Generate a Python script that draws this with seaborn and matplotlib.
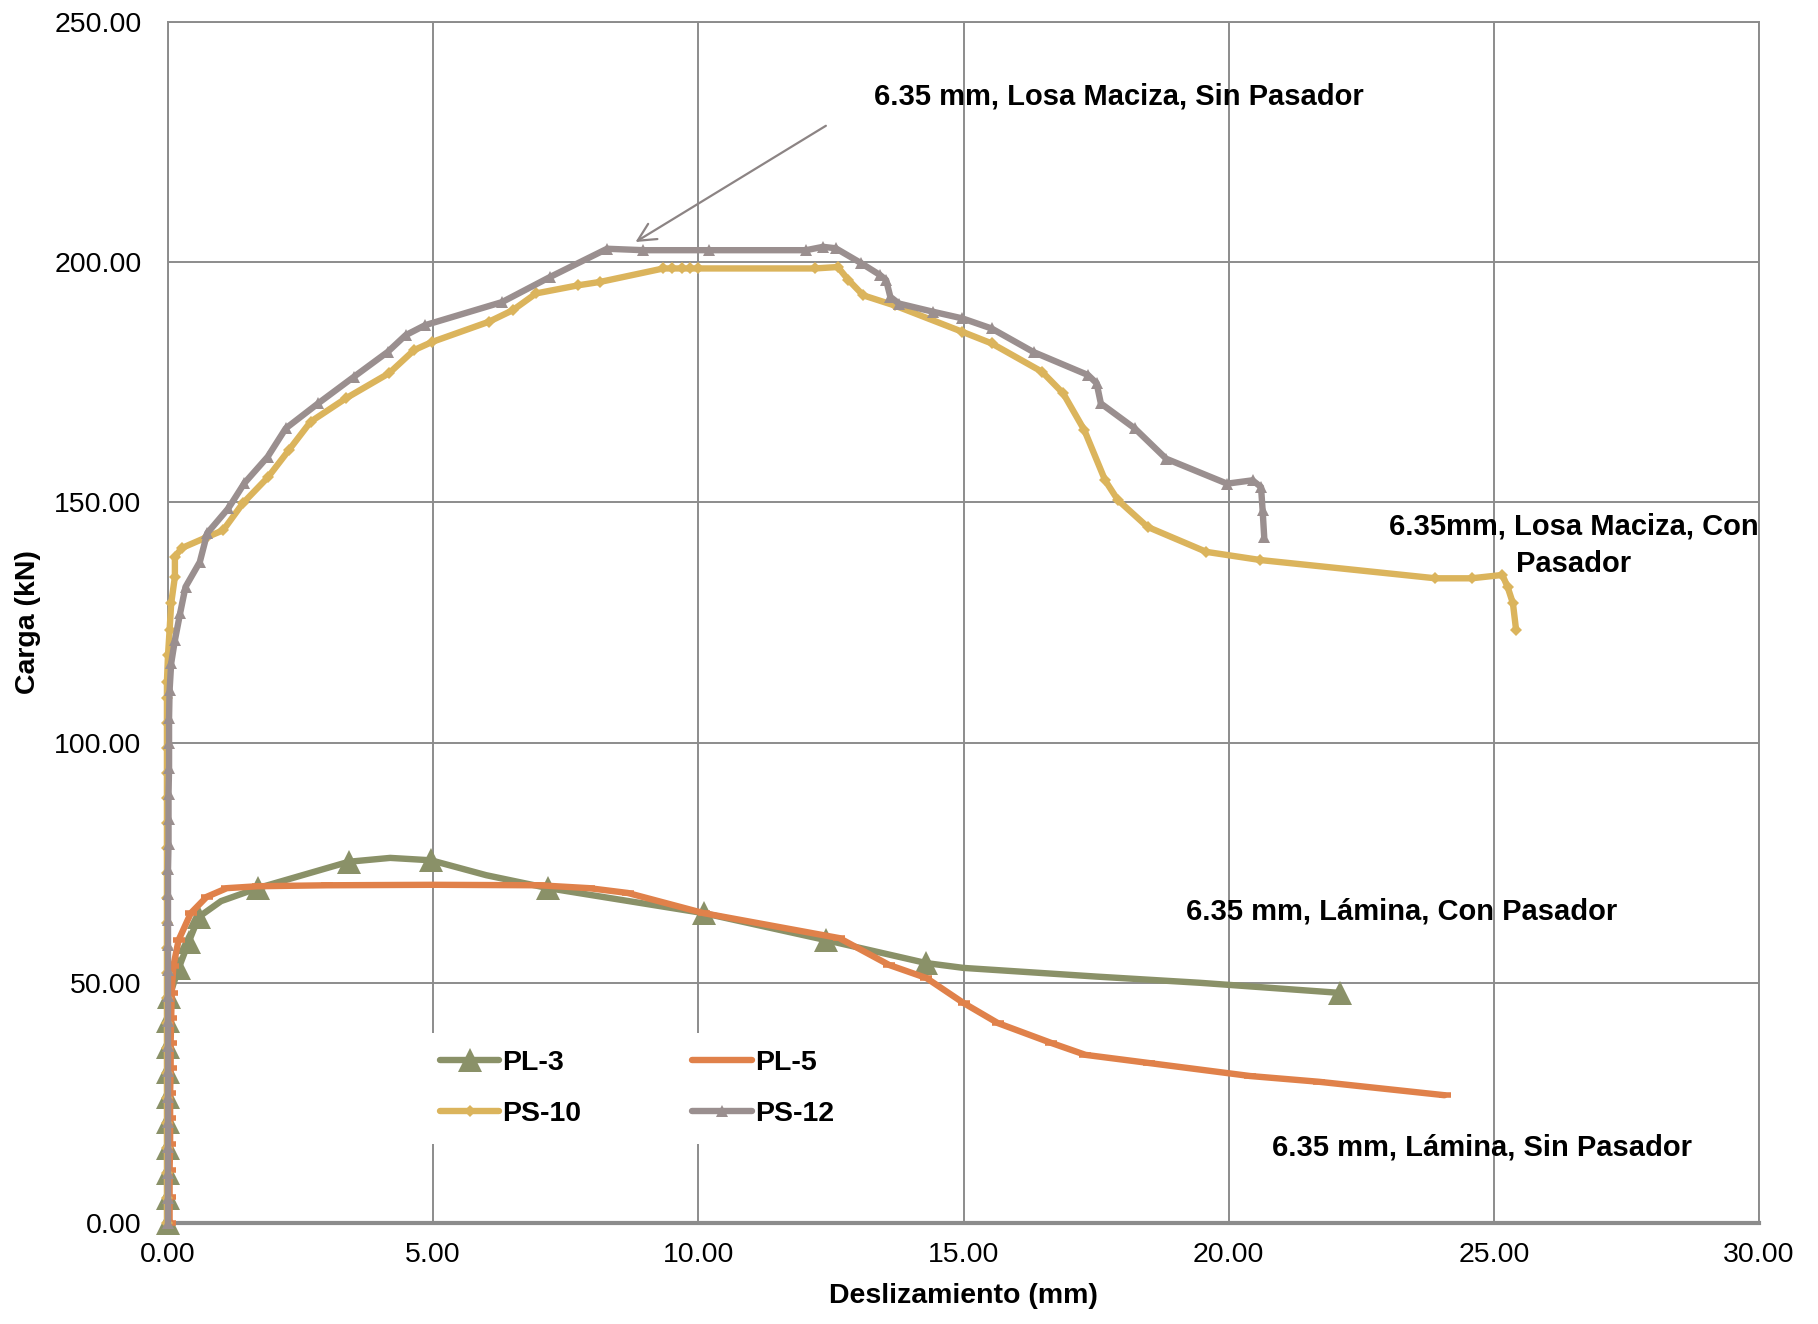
import matplotlib
matplotlib.use("Agg")
import matplotlib.pyplot as plt
import seaborn as sns
import pandas as pd
from matplotlib.lines import Line2D
from matplotlib.ticker import FormatStrFormatter

# ---------------- data ----------------
pl3_x = [0.0, 0.0, 0.0, 0.0, 0.0, 0.0, 0.0, 0.0, 0.0, 0.02, 0.2, 0.39, 0.58, 1.0,
         1.69, 3.41, 4.19, 4.96, 6.0, 7.17, 10.1, 12.4, 14.3, 15.0, 17.5, 19.46, 22.1]
pl3_y = [0, 5.2, 10.5, 15.7, 21.0, 26.2, 31.4, 36.7, 42.0, 47.0, 53.0, 58.5, 63.7, 67.0,
         69.7, 75.2, 76.0, 75.5, 72.4, 69.7, 64.5, 58.9, 54.1, 53.1, 51.3, 50.0, 47.9]
pl3_marks = [0, 1, 2, 3, 4, 5, 6, 7, 8, 9, 10, 11, 12, 14, 15, 17, 19, 20, 21, 22, 26]

pl5_x = [0.03, 0.03, 0.03, 0.04, 0.04, 0.04, 0.05, 0.05, 0.06, 0.07, 0.1, 0.2, 0.43, 0.73,
         1.11, 1.69, 3.0, 5.0, 7.0, 7.94, 8.67, 10.1, 12.66, 13.6, 14.3, 15.0, 15.65, 16.65,
         17.3, 18.5, 20.4, 21.7, 24.07]
pl5_y = [0, 5.5, 11.0, 16.4, 21.8, 27.0, 32.2, 37.5, 42.6, 47.9, 53.4, 58.9, 64.5, 67.9,
         69.7, 70.1, 70.3, 70.4, 70.3, 69.7, 68.7, 64.5, 59.3, 53.7, 51.0, 45.8, 41.6, 37.5,
         35.0, 33.3, 30.6, 29.4, 26.6]

ps10_x = [-0.02, -0.02, -0.02, -0.02, -0.02, -0.02, -0.02, -0.02, -0.02, -0.02, -0.02,
          -0.02, -0.02, -0.02, -0.02, -0.02, -0.02, -0.02, -0.02, -0.02, -0.02, -0.02,
          -0.02, 0.0, 0.03, 0.06, 0.13, 0.13, 0.26, 0.74, 1.04, 1.41, 1.89, 2.28, 2.69,
          3.36, 4.17, 4.64, 4.98, 6.05, 6.5, 6.94, 7.74, 8.15, 9.34, 9.5, 9.7, 9.85, 10.0,
          12.2, 12.63, 12.83, 13.11, 13.7, 14.98, 15.53, 16.48, 16.88, 17.28, 17.67, 17.91,
          18.47, 19.58, 20.6, 23.9, 24.58, 25.16, 25.26, 25.36, 25.42]
ps10_y = [0, 5.2, 10.4, 15.6, 20.8, 26.0, 31.2, 36.4, 41.6, 46.8, 52.0, 57.2, 62.4, 67.6,
          72.8, 78.0, 83.2, 88.4, 93.6, 98.8, 104.0, 109.2, 112.7, 118.2, 123.4, 129.0,
          134.5, 138.7, 140.5, 142.8, 144.2, 149.8, 155.3, 160.9, 166.8, 171.7, 176.9,
          181.7, 183.4, 187.6, 190.0, 193.5, 195.2, 195.9, 198.7, 198.7, 198.7, 198.7,
          198.7, 198.7, 199.0, 196.3, 193.1, 191.0, 185.5, 183.1, 177.2, 172.7, 165.0,
          154.6, 150.5, 144.9, 139.7, 138.0, 134.2, 134.2, 134.9, 132.4, 129.0, 123.4]

ps12_x = [0.0, 0.0, 0.0, 0.0, 0.0, 0.0, 0.0, 0.0, 0.0, 0.0, 0.0, 0.0, 0.0, 0.0, 0.0,
          0.01, 0.01, 0.01, 0.02, 0.02, 0.02, 0.03, 0.06, 0.13, 0.23, 0.33, 0.6, 0.74,
          1.14, 1.44, 1.88, 2.22, 2.83, 3.5, 4.14, 4.48, 4.85, 6.3, 7.2, 8.28, 8.96, 10.2,
          12.03, 12.35, 12.59, 13.07, 13.43, 13.54, 13.62, 13.78, 14.42, 14.98, 15.53,
          16.32, 17.35, 17.51, 17.59, 18.23, 18.82, 19.97, 20.45, 20.61, 20.64, 20.67]
ps12_y = [0, 5.3, 10.5, 15.8, 21.0, 26.3, 31.6, 36.8, 42.1, 47.3, 52.6, 57.8, 63.1,
          68.4, 73.6, 78.9, 84.1, 89.4, 94.7, 99.9, 105.2, 110.9, 116.5, 121.3, 127.0,
          132.4, 137.6, 143.6, 148.8, 154.0, 159.5, 165.4, 170.6, 176.1, 181.3, 184.8,
          186.9, 191.7, 196.9, 202.8, 202.5, 202.5, 202.5, 203.2, 202.9, 199.8, 197.3,
          196.3, 192.8, 191.4, 189.7, 188.3, 186.2, 181.3, 176.5, 174.8, 170.6, 165.4,
          159.1, 153.9, 154.6, 153.2, 148.4, 142.8]

series_names = ["PL-3", "PL-5", "PS-10", "PS-12"]
x_ticks = [0, 5, 10, 15, 20, 25, 30]
y_ticks = [0, 50, 100, 150, 200, 250]

ann_texts = ["6.35 mm, Losa Maciza, Sin Pasador",
             "6.35mm, Losa Maciza, Con\nPasador",
             "6.35 mm, Lámina, Con Pasador",
             "6.35 mm, Lámina, Sin Pasador"]

# ---------------- style ----------------
sns.set_style("white")
plt.rcParams["font.family"] = ["Liberation Sans", "DejaVu Sans"]
plt.rcParams["text.color"] = "black"

C_GREEN = "#8a9168"
C_ORANGE = "#e0814a"
C_GOLD = "#dbb45c"
C_GRAY = "#9a8f8f"
C_GRID = "#8c8c8c"
FS = 20.5
FS_ANN = 21

fig = plt.figure(figsize=(18.18, 13.24), dpi=100)
ax = fig.add_axes([168 / 1818, 1 - 1223 / 1324, (1759 - 168) / 1818, (1223 - 22) / 1324])

LW = 4.6
common = dict(sort=False, estimator=None, ax=ax, clip_on=False,
              solid_joinstyle="round", solid_capstyle="round")

sns.lineplot(x=pl3_x, y=pl3_y, color=C_GREEN, lw=LW, marker="^", ms=17, mew=0,
             mec=C_GREEN, markevery=pl3_marks, zorder=3, **common)
sns.lineplot(x=pl5_x, y=pl5_y, color=C_ORANGE, lw=LW, marker="_", ms=9, mew=4,
             mec=C_ORANGE, zorder=4, **common)
sns.lineplot(x=ps10_x, y=ps10_y, color=C_GOLD, lw=LW, marker="D", ms=6, mew=0,
             mec=C_GOLD, zorder=5, **common)
sns.lineplot(x=ps12_x, y=ps12_y, color=C_GRAY, lw=LW, marker="^", ms=8, mew=0,
             mec=C_GRAY, zorder=6, **common)

ax.set_xlim(0, 30)
ax.set_ylim(0, 250)
ax.set_xticks(x_ticks)
ax.set_yticks(y_ticks)
ax.xaxis.set_major_formatter(FormatStrFormatter("%.2f"))
ax.yaxis.set_major_formatter(FormatStrFormatter("%.2f"))
ax.tick_params(axis="both", length=0, labelsize=FS, colors="black")
ax.tick_params(axis="x", pad=14)
ax.tick_params(axis="y", pad=19)

ax.grid(True, color=C_GRID, lw=1.4, zorder=0)
ax.set_axisbelow(True)
for side in ["top", "right"]:
    ax.spines[side].set_visible(True)
    ax.spines[side].set_color(C_GRID)
    ax.spines[side].set_linewidth(1.4)
ax.spines["left"].set_color(C_GRID)
ax.spines["left"].set_linewidth(1.4)
ax.spines["bottom"].set_color(C_GRID)
ax.spines["bottom"].set_linewidth(3)

ax.set_xlabel("Deslizamiento (mm)", fontsize=FS, fontweight="bold", color="black")
ax.set_ylabel("Carga (kN)", fontsize=FS, fontweight="bold", color="black")
ax.xaxis.set_label_coords(0.5, -0.05)
ax.yaxis.set_label_coords(-0.0798, 0.5)

# annotations
ax.text(13.32, 234.5, ann_texts[0], fontsize=FS_ANN, fontweight="bold", ha="left",
        va="center", color="black")
ax.annotate("", xy=(8.77, 203.9), xytext=(12.45, 228.7),
            arrowprops=dict(arrowstyle="->", color="#8c8484", lw=1.6, mutation_scale=32))
ax.text(26.5, 141.1, ann_texts[1], fontsize=FS_ANN, fontweight="bold", ha="center",
        va="center", linespacing=1.4, color="black")
ax.text(19.2, 64.9, ann_texts[2], fontsize=FS_ANN, fontweight="bold", ha="left",
        va="center", color="black")
ax.text(20.82, 15.8, ann_texts[3], fontsize=FS_ANN, fontweight="bold", ha="left",
        va="center", color="black")

# legend (column-major fill -> PL-3, PS-10 | PL-5, PS-12)
handles = {
    "PL-3": Line2D([], [], color=C_GREEN, lw=LW, marker="^", ms=17, mew=0),
    "PL-5": Line2D([], [], color=C_ORANGE, lw=LW, solid_capstyle="round"),
    "PS-10": Line2D([], [], color=C_GOLD, lw=LW, marker="D", ms=6, mew=0),
    "PS-12": Line2D([], [], color=C_GRAY, lw=LW, marker="^", ms=8, mew=0),
}
order = [series_names[0], series_names[2], series_names[1], series_names[3]]
leg = ax.legend([handles[k] for k in order], order, ncol=2, loc="upper left",
                bbox_to_anchor=(0.16, 0.158), borderaxespad=0,
                prop=dict(size=FS, weight="bold"), frameon=True, framealpha=1,
                facecolor="white", edgecolor="none", fancybox=False,
                handlelength=2.1, handletextpad=0.1, columnspacing=3.9,
                labelspacing=0.85, borderpad=0.6, numpoints=1)
leg.set_zorder(7)
for t in leg.get_texts():
    t.set_color("black")

fig.savefig("out.png", dpi=100, facecolor="white")
